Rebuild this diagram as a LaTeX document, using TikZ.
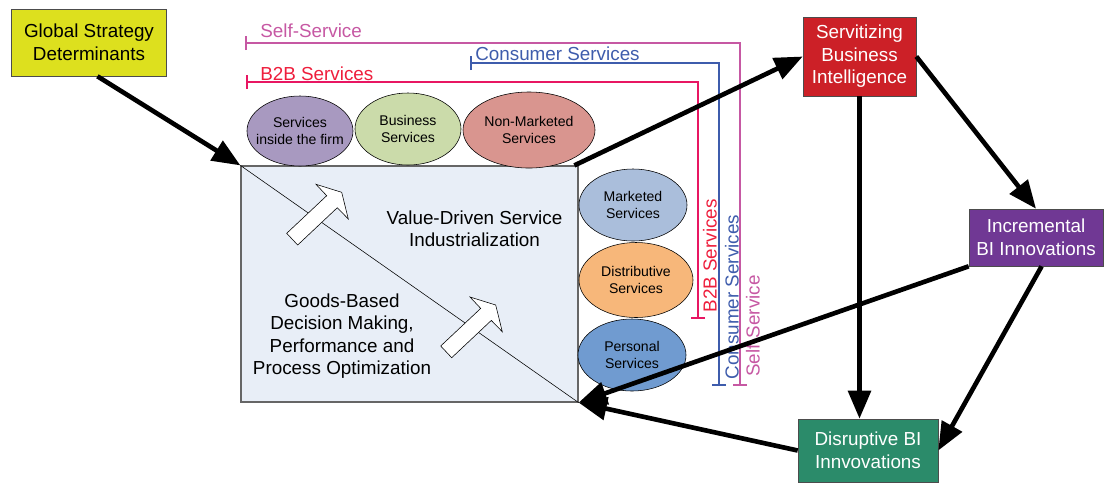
\documentclass[tikz,border=0pt]{standalone}
\usepackage{fontspec}
\setmainfont{Liberation Sans}
\usetikzlibrary{arrows.meta, shapes.geometric}

\definecolor{gsdyellow}{RGB}{221,224,30}
\definecolor{sbired}{RGB}{204,32,39}
\definecolor{ibipurple}{RGB}{112,56,148}
\definecolor{dbigreen}{RGB}{43,139,106}
\definecolor{sifpurple}{RGB}{168,153,192}
\definecolor{busgreen}{RGB}{203,219,170}
\definecolor{nmsred}{RGB}{217,149,143}
\definecolor{mktblue}{RGB}{170,190,219}
\definecolor{dstorange}{RGB}{247,183,122}
\definecolor{perblue}{RGB}{112,155,208}
\definecolor{indfill}{RGB}{232,238,247}
\definecolor{selfpink}{RGB}{198,88,163}
\definecolor{consblue}{RGB}{62,92,172}
\definecolor{btobline}{RGB}{232,22,98}
\definecolor{btobtext}{RGB}{238,30,60}

\begin{document}
\begin{tikzpicture}[x=0.025cm, y=-0.025cm,
        box/.style={rectangle, draw=black!70, thin, text=white, align=center, inner sep=0pt, font=\fontsize{13.4}{16}\selectfont},
        svc/.style={ellipse, draw=black, thin, inner sep=0pt},
        svctext/.style={align=center, inner sep=0pt, font=\fontsize{10}{12}\selectfont},
        label/.style={font=\fontsize{13.4}{16}\selectfont, inner sep=0pt},
        bracket/.style={line width=1.4pt, {Bar[width=10pt]}-{Bar[width=10pt]}},
        bigarrow/.style={line width=3.3pt, -{Triangle[length=20pt, width=16pt]}},
        blockarrow/.style={draw=black, fill=white, thin}]

    \useasboundingbox (0, 0) rectangle (1104, 483);

    % service groups
    \draw[bracket, selfpink] (245, 43) -- (740, 43) -- (740, 386);
    \draw[bracket, consblue] (470, 63) -- (719, 63) -- (719, 386);
    \draw[bracket, btobline] (246, 82) -- (698, 82) -- (698, 319);

    \node (self-h) at (260, 37) [label, anchor=base west, text=selfpink] {Self-Service};
    \node (cons-h) at (475, 60) [label, anchor=base west, text=consblue] {Consumer Services};
    \node (b2b-h) at (260, 80) [label, anchor=base west, text=btobtext] {B2B Services};

    \node (b2b-v) at (710, 256) [label, rotate=90, text=btobtext] {B2B Services};
    \node (cons-v) at (732, 297) [label, rotate=90, text=consblue] {Consumer Services};
    \node (self-v) at (753, 326) [label, rotate=90, text=selfpink] {Self-Service};

    % industrialization field
    \node (ind) at (409.5, 284) [rectangle, draw=black!60, line width=0.8pt, fill=indfill, minimum width=8.425cm, minimum height=5.9cm] {};
    \draw[thin] (ind.north west) -- (ind.south east);

    \draw[blockarrow] (286.7, 233.3) -- (326.7, 195.7) -- (316, 184.3) -- (341.7, 192.3)
        -- (348.3, 219) -- (337.3, 207.7) -- (297.7, 245) -- cycle;
    \draw[blockarrow, shift={(154, 112.7)}] (286.7, 233.3) -- (326.7, 195.7) -- (316, 184.3) -- (341.7, 192.3)
        -- (348.3, 219) -- (337.3, 207.7) -- (297.7, 245) -- cycle;

    \node (vds) at (474.5, 229) [label, align=center] {Value-Driven Service\\Industrialization};
    \node (gbd) at (342, 336) [label, align=center] {Goods-Based\\Decision Making,\\Performance and\\Process Optimization};

    % services
    \node (sif) at (300, 131) [svc, fill=sifpurple, minimum width=2.65cm, minimum height=1.75cm] {};
    \node (bus) at (408, 129) [svc, fill=busgreen, minimum width=2.65cm, minimum height=1.8cm] {};
    \node (nms) at (529, 130) [svc, fill=nmsred, minimum width=3.3cm, minimum height=1.9cm] {};
    \node (mkt) at (633, 205) [svc, fill=mktblue, minimum width=2.7cm, minimum height=1.8cm] {};
    \node (dst) at (636, 280) [svc, fill=dstorange, minimum width=2.85cm, minimum height=1.875cm] {};
    \node (per) at (632, 355) [svc, fill=perblue, minimum width=2.7cm, minimum height=1.8cm] {};

    \node (sif-t) at (sif) [svctext] {Services\\inside the firm};
    \node (bus-t) at (bus) [svctext] {Business\\Services};
    \node (nms-t) at (nms) [svctext] {Non-Marketed\\Services};
    \node (mkt-t) at (mkt) [svctext] {Marketed\\Services};
    \node (dst-t) at (dst) [svctext] {Distributive\\Services};
    \node (per-t) at (per) [svctext] {Personal\\Services};

    % boxes
    \node (gsd) at (89, 42.5) [box, fill=gsdyellow, text=black, minimum width=3.875cm, minimum height=1.675cm] {Global Strategy\\Determinants};
    \node (sbi) at (859.5, 56.5) [box, fill=sbired, minimum width=2.825cm, minimum height=1.975cm] {Servitizing\\Business\\Intelligence};
    \node (ibi) at (1036, 237.5) [box, fill=ibipurple, minimum width=3.35cm, minimum height=1.425cm] {Incremental\\BI Innovations};
    \node (dbi) at (868, 450.5) [box, fill=dbigreen, minimum width=3.5cm, minimum height=1.575cm] {Disruptive BI\\Innvovations};

    \draw[bigarrow] ([xshift=6pt]gsd.south) -- (ind.north west);
    \draw[bigarrow] ([xshift=-3pt]ind.north east) -- (sbi.west);
    \draw[bigarrow] (sbi.east) -- (ibi.north);
    \draw[bigarrow] (sbi.south) -- (sbi.south |- dbi.north);
    \draw[bigarrow] (ibi.south west) -- (ind.south east);
    \draw[bigarrow] ([xshift=4pt]ibi.south) -- (dbi.east);
    \draw[bigarrow] (dbi.west) -- (ind.south east);

\end{tikzpicture}
\end{document}
